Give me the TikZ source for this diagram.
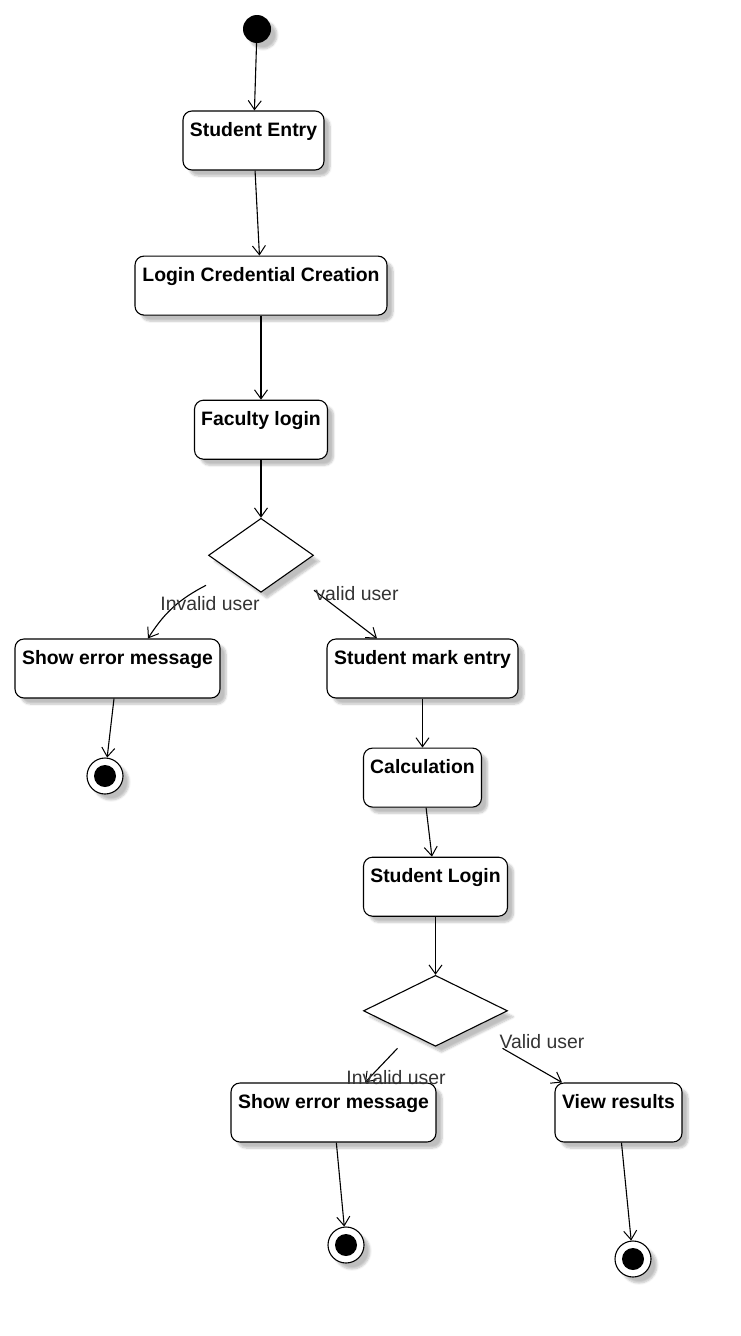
\documentclass[tikz,border=0pt]{standalone}
\usepackage{fontspec}
\setmainfont{Liberation Sans}
\usetikzlibrary{positioning,arrows.meta,shapes.geometric,shadows.blur}
\definecolor{umlInk}{HTML}{000000}
\definecolor{umlLabel}{HTML}{333333}
\tikzset{
  softshadow/.style = {blur shadow={shadow xshift=6pt, shadow yshift=-6pt,
                       shadow blur steps=6, shadow opacity=25}},
  actbox/.style     = {rectangle, rounded corners=9pt, draw=umlInk, line width=1.1pt,
                       fill=white, minimum height=59pt, inner sep=2pt,
                       text height=15pt, text depth=24pt,
                       font=\fontsize{19.4pt}{23pt}\selectfont\bfseries, softshadow},
  decision/.style   = {diamond, draw=umlInk, line width=1.1pt, fill=white,
                       inner sep=0pt, softshadow},
  initnode/.style   = {circle, fill=umlInk, minimum size=28pt, inner sep=0pt, softshadow},
  finalnode/.style  = {circle, draw=umlInk, line width=1.1pt, fill=white,
                       minimum size=36pt, inner sep=0pt, softshadow,
                       path picture={\fill[umlInk] (path picture bounding box.center) circle (11pt);}},
  flow/.style       = {-{Straight Barb[length=9pt, width=13pt, line width=1pt]},
                       line width=1.1pt, draw=umlInk},
  guard/.style      = {font=\fontsize{19.4pt}{23pt}\selectfont, text=umlLabel, inner sep=1pt},
}

\begin{document}
\begin{tikzpicture}[x=1pt, y=-1pt]
  \useasboundingbox (0,0) rectangle (741,1336);

  % faculty side
  \node[initnode] (start) at (257,29) {};
  \node[actbox, minimum width=141pt] (entry) at (253.5,140.5) {Student Entry};
  \node[actbox, minimum width=252pt, below=85pt of entry, xshift=7.5pt] (cred)
    {Login Credential Creation};
  \node[actbox, minimum width=133pt, below=84pt of cred] (flogin) {Faculty login};
  \node[decision, minimum width=105pt, minimum height=74pt, below=58pt of flogin] (dec1) {};

  \node[actbox, minimum width=205pt] (err1) at (117.5,668.5) {Show error message};
  \node[actbox, minimum width=191pt] (mark) at (422.5,668.5) {Student mark entry};
  \node[finalnode] (end1) at (105,776) {};

  % student side
  \node[actbox, minimum width=118pt, below=49pt of mark] (calc) {Calculation};
  \node[actbox, minimum width=144pt, below=49pt of calc, xshift=13pt] (slogin) {Student Login};
  \node[decision, minimum width=144pt, minimum height=71pt, below=58pt of slogin] (dec2) {};

  \node[actbox, minimum width=205pt] (err2) at (333.5,1112.5) {Show error message};
  \node[actbox, minimum width=127pt] (view) at (618.5,1112.5) {View results};
  \node[finalnode] (end2) at (346,1245) {};
  \node[finalnode] (end3) at (633,1259) {};

  \draw[flow] (start) -- (entry);
  \draw[flow] (entry) -- (cred);
  \draw[flow] (cred) -- (flogin);
  \draw[flow] (flogin) -- (dec1);
  \draw[flow] ([xshift=-55pt, yshift=-30pt]dec1.center) to[bend right=15]
        ([xshift=30.5pt]err1.north);
  \draw[flow] ([xshift=53pt, yshift=-35pt]dec1.center) -- ([xshift=-45.5pt]mark.north);
  \node[guard] (g1) at (210,604) {Invalid user};
  \node[guard] (g2) at (357,594) {valid user};
  \draw[flow] (err1) -- (end1);

  \draw[flow] (mark) -- (calc);
  \draw[flow] (calc) -- (slogin);
  \draw[flow] (slogin) -- (dec2);
  \draw[flow] ([xshift=-38pt, yshift=-37.5pt]dec2.center) -- ([xshift=31.5pt]err2.north);
  \draw[flow] ([xshift=67pt, yshift=-37.5pt]dec2.center) -- ([xshift=-56.5pt]view.north);
  \node[guard] (g3) at (396,1078) {Invalid user};
  \node[guard] (g4) at (542,1042) {Valid user};
  \draw[flow] (err2) -- (end2);
  \draw[flow] (view) -- (end3);
\end{tikzpicture}
\end{document}
